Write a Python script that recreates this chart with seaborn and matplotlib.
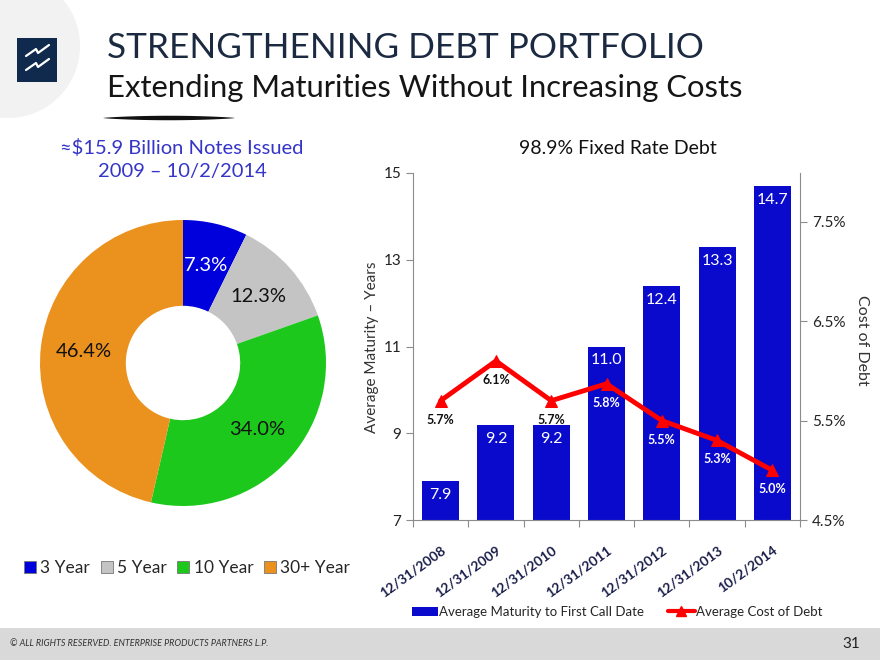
import numpy as np
import pandas as pd
import matplotlib
matplotlib.use("Agg")
import matplotlib.pyplot as plt
import seaborn as sns
from matplotlib.patches import Rectangle, Ellipse, Polygon, Patch
from matplotlib.lines import Line2D
import matplotlib.transforms as mtransforms

# ---------------- data ----------------
dates = ["12/31/2008", "12/31/2009", "12/31/2010", "12/31/2011",
         "12/31/2012", "12/31/2013", "10/2/2014"]
maturity = [7.9, 9.2, 9.2, 11.0, 12.4, 13.3, 14.7]
cost = [5.7, 6.1, 5.7, 5.87, 5.5, 5.3, 5.0]
cost_labels = ["5.7%", "6.1%", "5.7%", "5.8%", "5.5%", "5.3%", "5.0%"]
terms = ["3 Year", "5 Year", "10 Year", "30+ Year"]
shares = [7.3, 12.3, 34.0, 46.4]
left_ticks = [7, 9, 11, 13, 15]
right_ticks = [4.5, 5.5, 6.5, 7.5]

# ---------------- style ----------------
sns.set_theme(style="white")
plt.rcParams['font.family'] = ['Lato', 'DejaVu Sans']

W, H = 880, 660
fig = plt.figure(figsize=(8.8, 6.6), dpi=100)
fig.patch.set_facecolor("white")


def fx(x):
    return x / W


def fy(y):
    return 1 - y / H


# ---------------- header decorations ----------------
fig.patches.append(Ellipse((fx(8), fy(46)), 2 * 72 / W, 2 * 72 / H,
                           transform=fig.transFigure, facecolor="#F2F2F2",
                           edgecolor="none", zorder=0))
fig.patches.append(Rectangle((fx(17), fy(82)), 40 / W, 44 / H,
                             transform=fig.transFigure, facecolor="#0F2A4C",
                             edgecolor="none", zorder=1))
for dy in (0, 14):
    xs = [26, 36, 38, 49]
    ys = [56 + dy, 49 + dy, 53 + dy, 45 + dy]
    fig.lines.append(Line2D([fx(v) for v in xs], [fy(v) for v in ys],
                            transform=fig.transFigure, color="white",
                            lw=1.6, zorder=2))

fig.text(fx(107), fy(48), "STRENGTHENING DEBT PORTFOLIO", fontsize=25.3,
         color="#1B2A41", ha="left", va="center")
fig.text(fx(107), fy(88), "Extending Maturities Without Increasing Costs",
         fontsize=22.3, color="#151515", ha="left", va="center")

u = np.linspace(0, 1, 80)
thick = 4.5 * np.sin(np.pi * u) ** 0.7
xs = 103 + 132 * u
top = [(fx(a), fy(118 - t / 2)) for a, t in zip(xs, thick)]
bot = [(fx(a), fy(118 + t / 2)) for a, t in zip(xs[::-1], thick[::-1])]
fig.patches.append(Polygon(top + bot, closed=True, transform=fig.transFigure,
                           facecolor="#111111", edgecolor="none"))

# ---------------- donut chart ----------------
fig.text(fx(182), fy(148), "\u2248$15.9 Billion Notes Issued", fontsize=14.5,
         color="#3535C8", ha="center", va="center")
fig.text(fx(182), fy(172), "2009 \u2013 10/2/2014", fontsize=14.5,
         color="#3535C8", ha="center", va="center")

pie_colors = ["#0000DD", "#C4C4C4", "#1DC81D", "#EB921E"]
axp = fig.add_axes([fx(40), fy(506), 286 / W, 286 / H])
wedges, _, autotexts = axp.pie(shares, colors=pie_colors, startangle=90,
                               counterclock=False, autopct="%.1f%%",
                               pctdistance=0.7,
                               wedgeprops=dict(width=0.6, edgecolor="none"),
                               textprops=dict(fontsize=14.5))
for t, c in zip(autotexts, ["white", "#111111", "#111111", "#111111"]):
    t.set_color(c)
axp.set_xlim(-1, 1)
axp.set_ylim(-1, 1)
axp.set_aspect("equal")

pie_handles = [Patch(facecolor=c, edgecolor="#777777", linewidth=0.6)
               for c in pie_colors]
fig.legend(pie_handles, terms, loc="center", bbox_to_anchor=(fx(187), fy(568)),
           ncol=4, frameon=False, fontsize=12.5, handlelength=0.7,
           handleheight=0.7, handletextpad=0.25, columnspacing=0.6)

# ---------------- bar + line chart ----------------
fig.text(fx(618), fy(148), "98.9% Fixed Rate Debt", fontsize=14,
         color="#111111", ha="center", va="center")

df = pd.DataFrame({"date": dates, "maturity": maturity, "cost": cost,
                   "pos": np.arange(len(dates))})

ax = fig.add_axes([fx(413), fy(520), 387 / W, 347 / H])
sns.barplot(data=df, x="date", y="maturity", color="#0A0ACC", width=0.67,
            saturation=1, ax=ax)
for p in ax.patches:
    p.set_edgecolor("none")
ax.set_ylim(7, 15)
ax.set_yticks(left_ticks)
ax.set_xlabel("")
ax.set_ylabel("")
for i, v in enumerate(maturity):
    ax.annotate(f"{v:.1f}", (i, v), xytext=(0, -14), textcoords="offset pixels",
                ha="center", va="center", color="white", fontsize=11.5)

ax2 = ax.twinx()
sns.lineplot(data=df, x="pos", y="cost", color="#FF0000", linewidth=3.5,
             marker="^", markersize=9, markeredgecolor="#FF0000", ax=ax2)
ax2.set_ylim(4.5, 7.99)
ax2.set_yticks(right_ticks)
ax2.set_yticklabels([f"{t:.1f}%" for t in right_ticks])
ax2.set_xlabel("")
ax2.set_ylabel("")
for i, (v, lab) in enumerate(zip(cost, cost_labels)):
    col = "#111111" if i < 3 else "white"
    ax2.annotate(lab, (i, v), xytext=(0, -19), textcoords="offset pixels",
                 ha="center", va="center", color=col, fontsize=9,
                 fontweight="bold")

ax.set_xlim(-0.5, len(dates) - 0.5)
ax.set_xticks(range(len(dates)))
ax.set_xticklabels(dates, rotation=36, ha="right", rotation_mode="anchor",
                   fontsize=10, fontweight="bold", color="#1A1F4A")
shift = mtransforms.ScaledTranslation(5 / 100, 0, fig.dpi_scale_trans)
for lab in ax.get_xticklabels():
    lab.set_transform(lab.get_transform() + shift)
ax.set_xticks(np.arange(-0.5, len(dates), 1.0), minor=True)
ax.tick_params(axis="x", which="major", length=0, pad=17)
ax.tick_params(axis="x", which="minor", bottom=True, length=5,
               color="#8C8C8C", width=0.8)
ax.tick_params(axis="y", left=True, direction="out", length=5,
               color="#8C8C8C", width=0.8, labelsize=11, labelcolor="#222222")
ax2.tick_params(axis="y", right=True, direction="out", length=5,
                color="#8C8C8C", width=0.8, labelsize=11, labelcolor="#222222")

for s in ["top", "right"]:
    ax.spines[s].set_visible(False)
for s in ["left", "bottom"]:
    ax.spines[s].set_color("#8C8C8C")
    ax.spines[s].set_linewidth(0.8)
for s in ["top", "left", "bottom"]:
    ax2.spines[s].set_visible(False)
ax2.spines["right"].set_color("#8C8C8C")
ax2.spines["right"].set_linewidth(0.8)
ax.set_facecolor("none")
ax2.set_facecolor("none")
ax.grid(False)
ax2.grid(False)

fig.text(fx(372), fy(347), "Average Maturity \u2013 Years", rotation=90,
         fontsize=11, color="#333333", ha="center", va="center")
fig.text(fx(862), fy(340), "Cost of Debt", rotation=-90,
         fontsize=11.5, color="#333333", ha="center", va="center")

bar_handles = [Patch(facecolor="#0A0ACC", edgecolor="none"),
               Line2D([], [], color="#FF0000", lw=3, marker="^", markersize=7)]
fig.legend(bar_handles, ["Average Maturity to First Call Date",
                         "Average Cost of Debt"],
           loc="center", bbox_to_anchor=(fx(617), fy(612)), ncol=2,
           frameon=False, fontsize=9.5, handlelength=2.0, handletextpad=0.1,
           columnspacing=1.8)

# ---------------- footer ----------------
fig.patches.append(Rectangle((0, 0), 1, fy(628), transform=fig.transFigure,
                             facecolor="#D9D9D9", edgecolor="none", zorder=0))
fig.text(fx(10), fy(644), "\u00a9 ALL RIGHTS RESERVED. ENTERPRISE PRODUCTS PARTNERS L.P.",
         fontsize=6.5, style="italic", color="#333333", ha="left", va="center")
fig.text(fx(860), fy(644), "31", fontsize=11, color="#222222",
         ha="right", va="center")

fig.savefig("out.png", dpi=100)
